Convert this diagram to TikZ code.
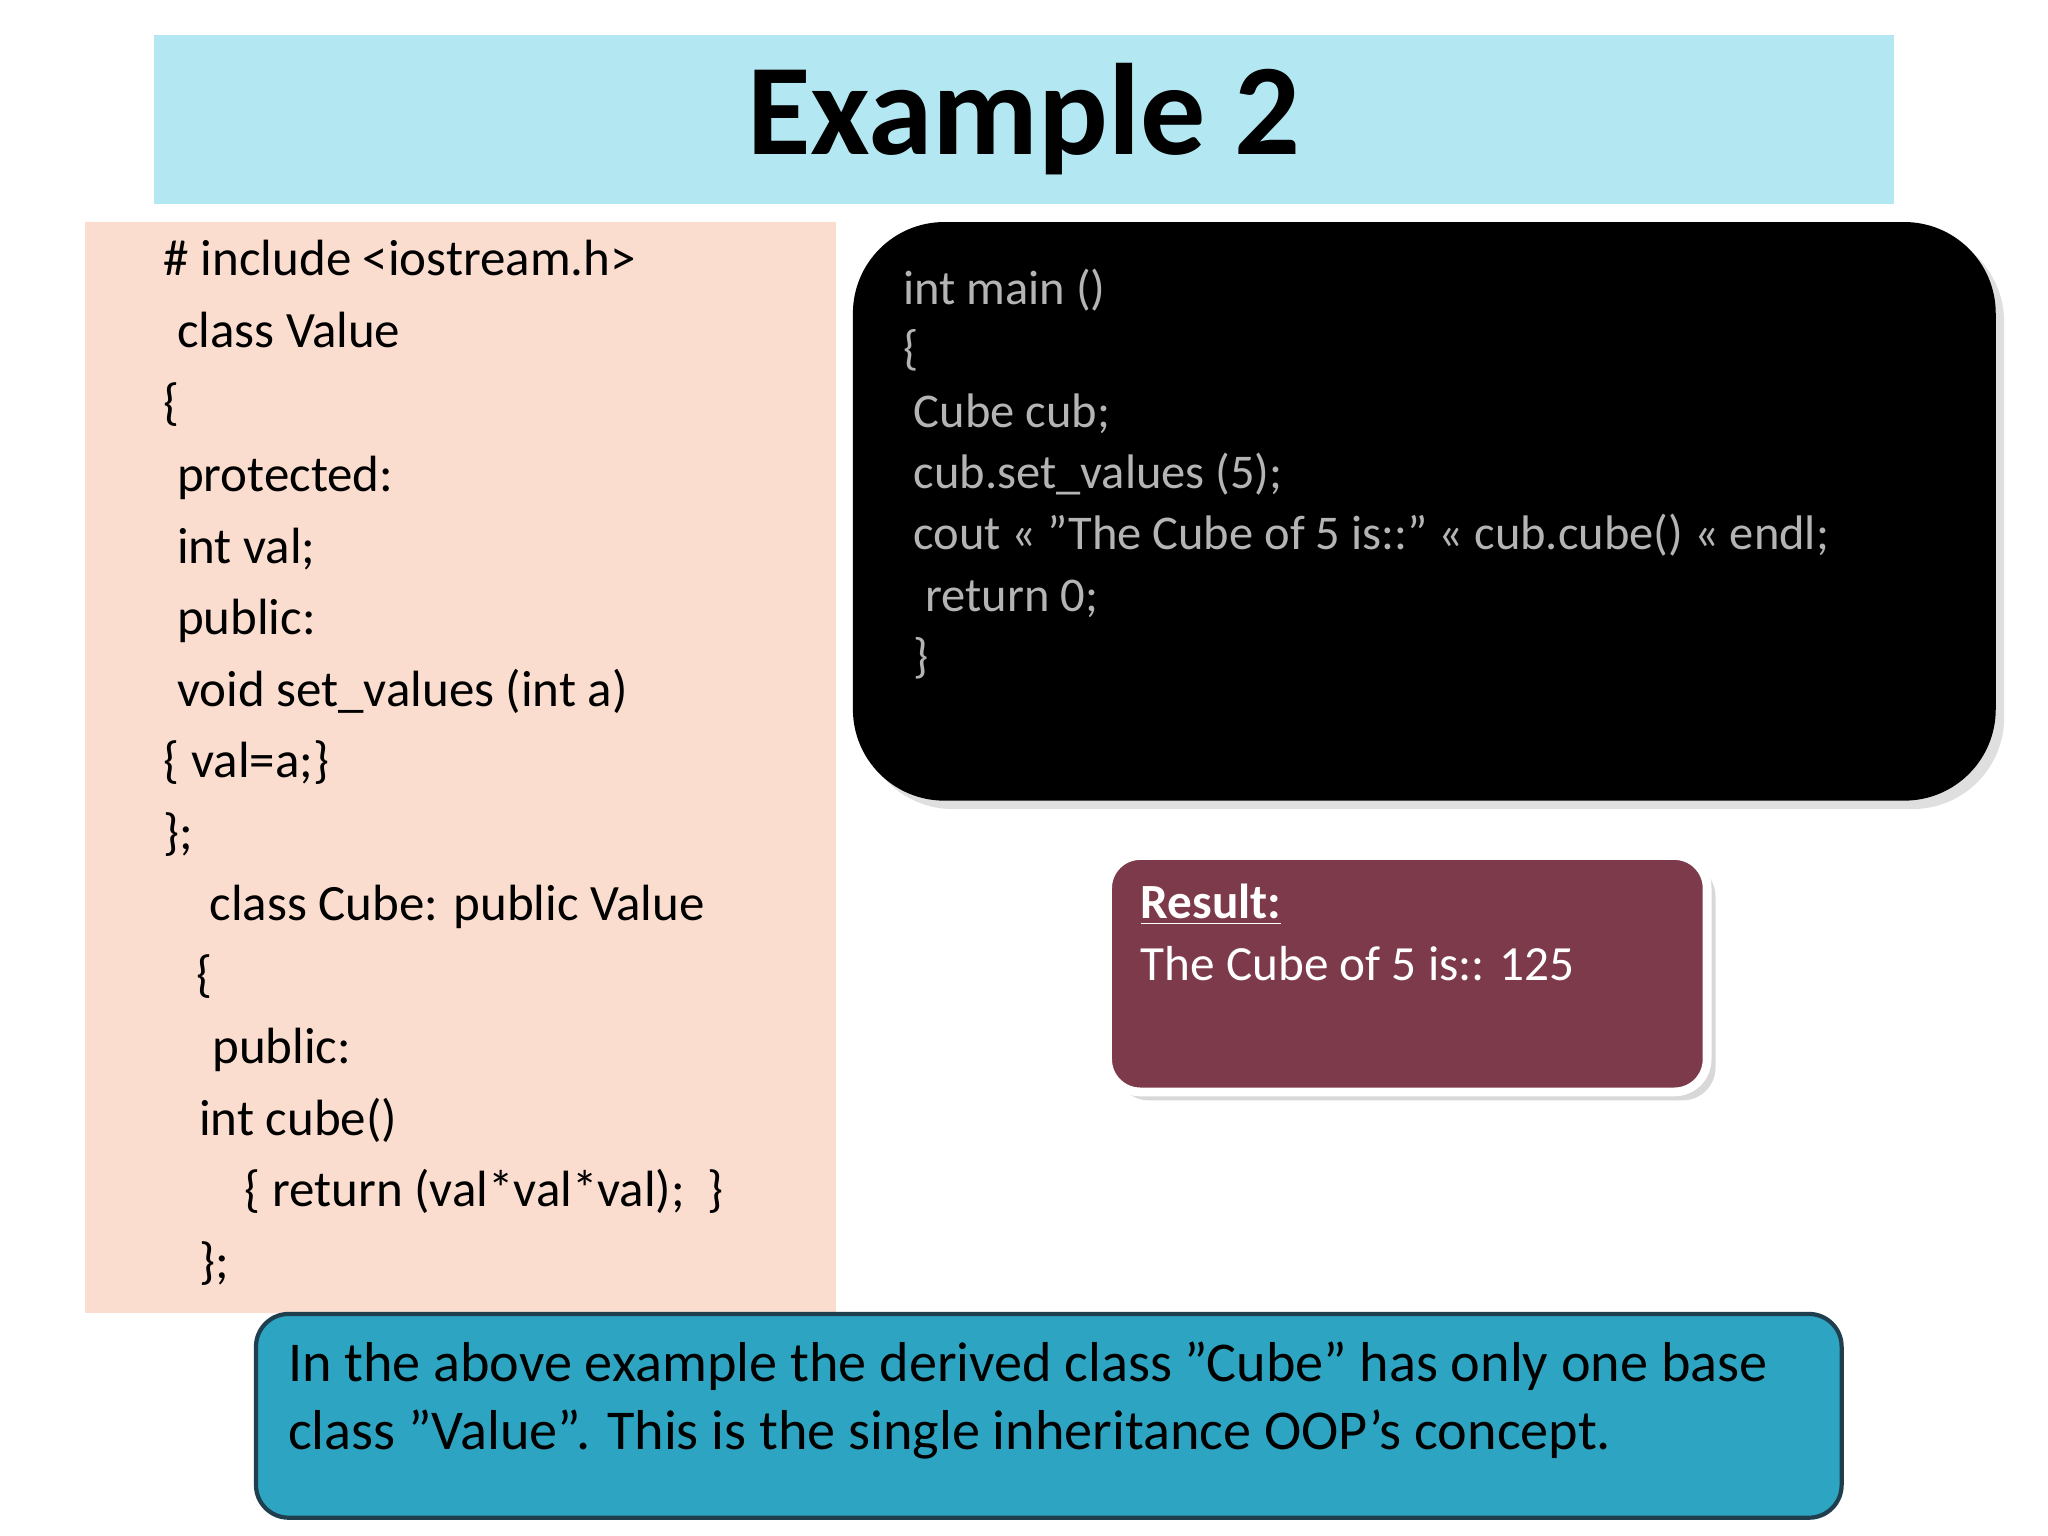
\documentclass[tikz,border=0pt]{standalone}
\usepackage{fontspec}
\setmainfont{Carlito}
\usetikzlibrary{shadows}
\definecolor{titlebg}{HTML}{B3E8F2}
\definecolor{codebg}{HTML}{FADDCF}
\definecolor{graytxt}{HTML}{B4B4B4}
\definecolor{resbg}{HTML}{7D3A4B}
\definecolor{notebg}{HTML}{2DA5C2}
\definecolor{noteborder}{HTML}{1F3F4F}
\tikzset{
  code/.style={anchor=west,inner sep=0pt,font=\fontsize{14.5}{16}\selectfont,text height=1.5ex,text depth=.4ex},
  gcode/.style={code,text=graytxt,font=\fontsize{13.8}{16}\selectfont},
  wcode/.style={code,text=white,font=\fontsize{14}{16}\selectfont},
  ncode/.style={code,text=black,font=\fontsize{16}{18}\selectfont}
}
\begin{document}
\begin{tikzpicture}[x=0.013061cm,y=-0.013061cm]
\useasboundingbox (0,0) rectangle (1568,1176);
\fill[white] (0,0) rectangle (1568,1176);
\node[fill=titlebg,minimum width=1332*0.013061cm,minimum height=129*0.013061cm,inner sep=0pt,font=\fontsize{37}{40}\selectfont\bfseries] (title) at (784,91.5) {Example 2};
\node[fill=codebg,minimum width=575*0.013061cm,minimum height=835*0.013061cm,inner sep=0pt] (codebox) at (352.5,587.5) {};
\node[code] (l1) at (125,204) {\# include <iostream.h>};
\node[code] (l2) at (135,259) {class Value};
\node[code] (l3) at (125,314) {\{};
\node[code] (l4) at (135,369) {protected:};
\node[code] (l5) at (135,424) {int val;};
\node[code] (l6) at (135,479) {public:};
\node[code] (l7) at (135,534) {void set\_values (int a)};
\node[code] (l8) at (125,588) {\{ val=a;\}};
\node[code] (l9) at (125,643) {\};};
\node[code] (l10) at (160,698) {class Cube: public Value};
\node[code] (l11) at (150,752) {\{};
\node[code] (l12) at (162,807) {public:};
\node[code] (l13) at (152,862) {int cube()};
\node[code] (l14) at (187,917) {\{ return (val*val*val);\ \ \}};
\node[code] (l15) at (152,972) {\};};
\node[fill=black,rounded corners=70*0.013061cm,minimum width=875*0.013061cm,minimum height=443*0.013061cm,inner sep=0pt,drop shadow={opacity=0.25}] (mainbox) at (1090.5,391.5) {};
\node[gcode] (m1) at (691,226) {int main ()};
\node[gcode] (m2) at (691,272) {\{};
\node[gcode] (m3) at (699,320) {Cube cub;};
\node[gcode] (m4) at (699,367) {cub.set\_values (5);};
\node[gcode] (m5) at (699,414) {cout << "The Cube of 5 is::" << cub.cube() << endl;};
\node[gcode] (m6) at (708,461) {return 0;};
\node[gcode] (m7) at (699,508) {\}};
\node[fill=resbg,draw=white,line width=2.5pt,rounded corners=25*0.013061cm,minimum width=459*0.013061cm,minimum height=181*0.013061cm,inner sep=0pt,drop shadow={opacity=0.3}] (resbox) at (1077.5,745.5) {};
\node[wcode] (r1) at (873,696) {\bfseries\underline{Result:}};
\node[wcode] (r2) at (873,744) {The Cube of 5 is:: 125};
\node[fill=notebg,draw=noteborder,line width=1.2pt,rounded corners=25*0.013061cm,minimum width=1214*0.013061cm,minimum height=156*0.013061cm,inner sep=0pt] (notebox) at (803,1084) {};
\node[ncode] (n1) at (220,1051) {In the above example the derived class "Cube" has only one base};
\node[ncode] (n2) at (220,1103) {class "Value". This is the single inheritance OOP's concept.};
\end{tikzpicture}
\end{document}
